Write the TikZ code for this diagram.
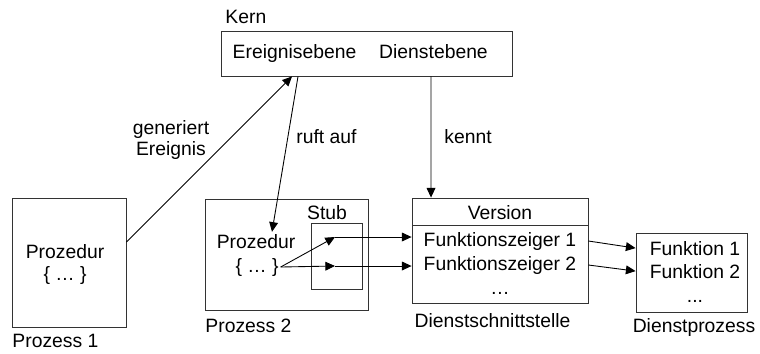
\documentclass[tikz,border=0pt]{standalone}
\usepackage{fontspec}
\setmainfont{Liberation Sans}
\usetikzlibrary{arrows.meta}

\begin{document}
\begin{tikzpicture}[->,>={Triangle[length=5.5pt,width=5pt]},
    x=0.02cm, y=-0.02cm, line width=0.5pt,
    font=\fontsize{11}{13}\selectfont,
    every node/.style={inner sep=1pt},
    box/.style={rectangle, draw=black!80}]

    \useasboundingbox (0,0) rectangle (760,353);

    % Kern
    \node[box,
          minimum width = 5.82cm,
          minimum height = 0.9cm
          ] (kern) at (366.5,53.5) {};
    \node[anchor=base west, inner sep=0pt] (kernlbl) at (225,23) {Kern};
    \node[anchor=base] (ereig) at (294.5,58) {Ereignisebene};
    \node[anchor=base] (dienst) at (433.5,58) {Dienstebene};

    % Prozess 1
    \node[box,
          minimum width = 2.28cm,
          minimum height = 2.58cm
          ] (p1) at (69,262.5) {};
    \node[anchor=base] (pz1) at (65,258) {Prozedur};
    \node[anchor=base] (b1) at (65,280) {\{ … \}};
    \node[anchor=base west, inner sep=0pt] (p1lbl) at (12,347) {Prozess 1};

    % Prozess 2 mit Stub
    \node[box,
          minimum width = 3.26cm,
          minimum height = 2.22cm
          ] (p2) at (286.5,254.5) {};
    \node[anchor=base] (pz2) at (256,248) {Prozedur};
    \node[anchor=base] (b2) at (257,272) {\{ … \}};
    \node[anchor=base west, inner sep=0pt] (p2lbl) at (205,332) {Prozess 2};

    \node[box,
          minimum width = 1.02cm,
          minimum height = 1.32cm
          ] (stub) at (336.5,256) {};
    \node[anchor=base] (stublbl) at (327,219) {Stub};
    \coordinate (s1) at (335,237);
    \coordinate (s2) at (335,266);

    % Dienstschnittstelle
    \node[box,
          minimum width = 3.52cm,
          minimum height = 2.1cm
          ] (ds) at (500,250.5) {};
    \node[box,
          minimum width = 3.52cm,
          minimum height = 0.54cm,
          anchor = north
          ] (ver) at (ds.north) {};
    \node[anchor=base] (verlbl) at (500,219) {Version};
    \node[anchor=base] (fz1) at (500,246) {Funktionszeiger 1};
    \node[anchor=base] (fz2) at (500,270) {Funktionszeiger 2};
    \node[anchor=base] (fzdots) at (500,294) {…};
    \node[anchor=base] (dslbl) at (492.5,327) {Dienstschnittstelle};

    % Dienstprozess
    \node[box,
          minimum width = 2.22cm,
          minimum height = 1.58cm
          ] (dp) at (691.5,272.5) {};
    \node[anchor=base] (f1) at (695,255) {Funktion 1};
    \node[anchor=base] (f2) at (695,278) {Funktion 2};
    \node[anchor=base] (fdots) at (695,302) {...};
    \node[anchor=base] (dplbl) at (694,332) {Dienstprozess};

    % Beschriftungen
    \node[align=center, font=\fontsize{11}{11.4}\selectfont] (gen) at (171,140) {generiert\\Ereignis};
    \node[anchor=base west, inner sep=0pt] (ruft) at (296,143) {ruft auf};
    \node[anchor=base west, inner sep=0pt] (kennt) at (444,143) {kennt};

    \path
    %Ereignis und Aufruf
    ([yshift=0.41cm]p1.east) edge ([xshift=-1.49cm]kern.south)
    ([xshift=-1.37cm]kern.south) edge ([xshift=0.32cm]pz2.north)
    ([xshift=1.29cm]kern.south) edge ([xshift=-1.38cm]ds.north)
    %Stub
    (b2.east) edge (s1)
    (s1) edge (s1 -| ds.west)
    (b2.east) edge (s2)
    (s2) edge (s2 -| ds.west)
    %Funktionszeiger
    (ds.east |- fz1) edge (dp.west |- f1)
    (ds.east |- fz2) edge (dp.west |- f2);

\end{tikzpicture}
\end{document}
